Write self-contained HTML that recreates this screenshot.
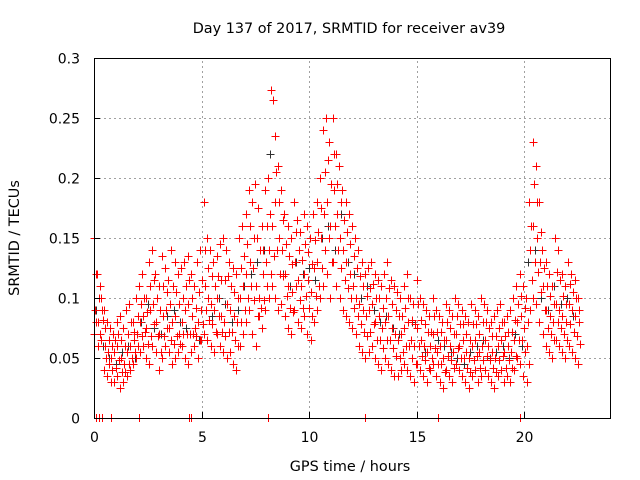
<!DOCTYPE html>
<html><head><meta charset="utf-8"><style>
body{margin:0;background:#fff}
svg{display:block;font-family:"DejaVu Sans","Liberation Sans",sans-serif}
</style></head><body>
<svg id="chart" width="640" height="480">
<g id="grid"></g>
<g id="marks"></g>
<g id="axes"></g>
<text x="349" y="33" text-anchor="middle" font-size="14.4">Day 137 of 2017, SRMTID for receiver av39</text>
<text x="350" y="471" text-anchor="middle" font-size="14.4">GPS time / hours</text>
<text transform="translate(19,238) rotate(-90)" text-anchor="middle" font-size="14.4">SRMTID / TECUs</text>
</svg>
<script>
const xTicks=[0,5,10,15,20];
const yTicks=[0,0.05,0.1,0.15,0.2,0.25,0.3];
const yTickLabels=["0","0.05","0.1","0.15","0.2","0.25","0.3"];
const redStep=0.15;
const redHigh=[150,120,110,90,80,75,70,80,85,75,90,95,80,100,110,120,100,130,140,120,110,135,125,115,140,130,120,125,130,135,120,110,130,140,180,150,140,130,135,145,150,140,130,125,120,150,160,170,190,180,195,175,160,190,200,273,235,210,190,170,160,150,180,165,155,170,160,150,170,180,200,240,250,230,250,220,210,190,180,170,160,150,140,130,120,125,130,120,115,110,120,130,115,110,105,100,110,120,100,95,115,100,95,90,85,100,90,85,80,95,90,85,100,95,90,85,80,95,90,85,100,95,90,80,85,90,95,80,85,90,100,110,120,110,100,180,230,210,180,140,130,120,110,150,140,120,110,130,120,115,100];
const redQ=[120,100,90,75,65,60,65,70,65,60,70,80,72,85,95,100,88,110,115,100,90,110,105,95,110,105,95,100,110,115,100,92,105,115,140,125,118,110,118,115,115,118,110,105,100,125,135,145,160,150,150,140,140,160,170,265,205,180,165,145,135,128,155,140,132,145,138,128,148,155,175,205,215,195,220,195,180,165,155,145,135,125,118,110,102,108,112,100,100,92,100,108,95,90,85,85,92,100,82,78,95,82,78,72,72,85,72,72,65,80,75,70,85,78,78,70,65,78,78,70,80,80,75,68,68,75,80,68,72,72,82,95,102,92,80,160,195,180,155,125,110,102,95,122,115,102,95,112,105,100,90];
const redMid=[90,80,100,60,55,50,55,60,50,45,55,60,65,70,80,85,75,90,95,80,70,85,90,75,80,85,70,80,90,95,85,75,80,90,110,100,95,90,100,85,80,95,90,85,80,100,110,120,130,125,110,100,120,130,140,160,180,150,140,120,110,105,130,115,110,120,115,105,125,130,150,170,180,160,190,170,150,140,130,120,110,100,95,90,85,90,95,80,85,75,80,85,75,70,65,70,75,80,65,60,75,65,60,55,60,70,55,60,50,65,60,55,70,60,65,55,50,60,65,55,60,65,60,55,50,60,65,55,60,55,65,80,85,75,60,140,160,150,130,110,90,85,80,95,90,85,80,95,90,85,80];
const redR=[80,70,82,50,45,40,42,48,38,38,45,50,55,60,68,72,62,68,78,68,55,68,75,65,62,68,62,70,70,70,70,68,65,78,90,82,78,72,85,72,68,72,72,65,60,80,90,100,110,98,85,92,98,110,120,135,140,120,118,102,92,88,110,98,92,102,92,85,102,110,125,140,150,130,160,140,125,115,108,100,92,85,78,72,68,72,78,65,65,58,65,65,58,52,50,55,60,60,50,45,60,52,48,42,50,58,45,45,38,52,48,42,58,50,50,42,38,48,52,42,48,52,48,42,38,48,52,42,48,42,52,65,65,55,45,115,130,122,105,90,75,70,65,80,75,70,65,78,72,68,62];
const redLow=[70,60,65,40,35,30,30,35,25,30,35,40,45,50,55,60,50,45,60,55,40,50,60,55,45,50,55,60,50,45,55,60,50,65,70,65,60,55,70,60,55,50,55,45,40,60,70,80,90,70,60,85,75,90,100,110,100,90,95,85,75,70,90,80,75,85,70,65,80,90,100,110,120,100,130,110,100,90,85,80,75,70,60,55,50,55,60,50,45,40,50,45,40,35,35,40,45,40,35,30,45,40,35,30,40,45,35,30,25,40,35,30,45,40,35,30,25,35,40,30,35,40,35,30,25,35,40,30,35,30,40,50,45,35,30,90,100,95,80,70,60,55,50,65,60,55,50,60,55,50,45];
const blackStep=0.3;
const blackVals=[90,60,50,45,55,60,50,80,95,75,70,85,90,80,75,70,65,90,85,100,95,80,90,110,120,130,140,220,140,120,110,130,120,125,115,150,160,140,170,130,120,100,110,90,80,85,75,70,60,80,60,55,50,65,60,55,50,45,55,60,65,50,55,60,50,70,60,130,140,100,90,110,95,100,85];
const zeroTimes=[0.1,0.25,0.35,0.8,2.1,4.4,4.5,8.1,12.6,16,19.8];
const NS="http://www.w3.org/2000/svg";
const X0=94,X1=610,Y0=418,Y1=58;
function xs(t){return X0+(X1-X0)*t/24;}
function ys(v){return Y0-(Y0-Y1)*v/0.3;}
const grid=document.getElementById('grid'),axes=document.getElementById('axes'),marks=document.getElementById('marks');
function mk(tag,at,parent){const e=document.createElementNS(NS,tag);for(const k in at)e.setAttribute(k,at[k]);parent.appendChild(e);return e;}
xTicks.forEach(t=>{const x=Math.round(xs(t))+0.5;
 if(t>0){const g=mk('line',{x1:x,x2:x,y1:Y0,y2:Y1,stroke:'#a0a0a0','stroke-dasharray':'2,3'},grid);
 }
 const tk=mk('line',{x1:x,x2:x,y1:Y0,y2:Y0-6,stroke:'#000'},axes);
 
 const tx=mk('text',{x:x,y:Y0+24,'text-anchor':'middle','font-size':14},axes);tx.textContent=t;
 });
yTicks.forEach((v,i)=>{const y=Math.round(ys(v))+0.5;
 if(v>0&&v<0.3){const g=mk('line',{x1:X0,x2:X1,y1:y,y2:y,stroke:'#a0a0a0','stroke-dasharray':'2,3'},grid);
 }
 const tk=mk('line',{x1:X0,x2:X0+6,y1:y,y2:y,stroke:'#000'},axes);
 
 const tx=mk('text',{x:X0-14,y:y+5,'text-anchor':'end','font-size':14},axes);tx.textContent=yTickLabels[i];
 });
const box=mk('rect',{x:X0+0.5,y:Y1+0.5,width:X1-X0,height:Y0-Y1,fill:'none',stroke:'#000'},axes);

function plus(t,v){const x=Math.round(xs(t))+0.5,y=Math.round(ys(v))+0.5;return `M${x-4},${y}h8M${x},${y-4}v8`;}
let d='';
blackVals.forEach((v,i)=>{d+=plus(i*blackStep+0.1,v/1000);});
const pb=mk('path',{d:d,stroke:'#303030','stroke-width':1,fill:'none','shape-rendering':'crispEdges'},marks);

d='';
const redSets=[[redHigh,0],[redQ,0.075],[redMid,0.04],[redR,0.11],[redLow,0.02]];
redSets.forEach(([arr,off])=>arr.forEach((v,i)=>{d+=plus(i*redStep+off,v/1000);}));
zeroTimes.forEach(t=>{const x=Math.round(xs(t))+0.5;d+=`M${x},${Y0-4}v8`;});
const pr=mk('path',{d:d,stroke:'#ff0000','stroke-width':1,fill:'none','shape-rendering':'crispEdges'},marks);

</script>
</body></html>
